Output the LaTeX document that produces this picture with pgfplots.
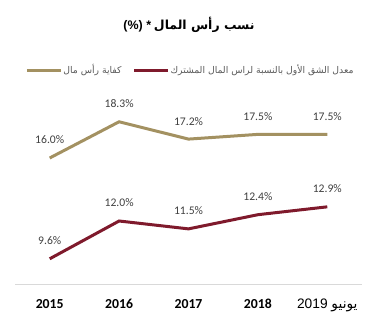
\documentclass[border=0pt]{standalone}
\usepackage{fontspec}
\setmainfont{Carlito}
\newfontfamily\arabicfont[Script=Arabic]{DejaVu Sans}
\newfontfamily\libsans{Liberation Sans}
\usepackage{pgfplots}
\pgfplotsset{compat=1.18}
\TeXXeTstate=1
\definecolor{gold}{HTML}{A39161}
\definecolor{maroon}{HTML}{7F1A2C}
\definecolor{lbl}{HTML}{404040}
\definecolor{leg}{HTML}{595959}
\definecolor{axisgray}{HTML}{D9D9D9}
\begin{document}
\begin{tikzpicture}
\path[use as bounding box] (0,0) rectangle (378bp,330bp);
\node[font=\fontsize{12.5}{13}\selectfont, text=black] at (189bp,305bp) {{\libsans\bfseries (\%) *} {\arabicfont\bfseries\beginR نسب رأس المال\endR}};
\begin{axis}[
  at={(15bp,46bp)}, anchor=south west,
  scale only axis, width=347bp, height=189bp,
  xmin=-0.5, xmax=4.5, ymin=8, ymax=20,
  clip=false,
  /pgf/number format/assume math mode=true,
  axis y line=none,
  axis x line*=bottom,
  x axis line style={-, draw=axisgray, line width=1bp},
  xtick={0,1,2,3,4},
  xticklabels={{\bfseries 2015},{\bfseries 2016},{\bfseries 2017},{\bfseries 2018},{\libsans 2019 \arabicfont\beginR يونيو\endR}},
  xticklabel style={anchor=base, yshift=-24bp, font=\fontsize{13.8}{14}\selectfont, text=black},
  major tick length=0,
  nodes near coords={\pgfmathprintnumber[fixed,fixed zerofill,precision=1]{\pgfplotspointmeta}\%},
  every node near coord/.append style={anchor=center, yshift=18bp, font=\fontsize{11.7}{12}\selectfont, text=lbl},
  legend columns=2,
  legend style={at={(0.504,1.132)}, anchor=center, draw=none, fill=none,
    font=\arabicfont\fontsize{9.3}{10}\selectfont, text=leg,
    nodes={inner sep=1bp},
    /tikz/every even column/.append style={column sep=10bp}},
  legend image code/.code={\draw[#1, line width=3bp] (0bp,0bp) -- (34bp,0bp);},
]
\addplot[gold, line width=3bp, mark=none] coordinates {(0,16.0)(1,18.3)(2,17.2)(3,17.5)(4,17.5)};
\addlegendentry{\beginR كفاية رأس مال\endR}
\addplot[maroon, line width=3bp, mark=none] coordinates {(0,9.6)(1,12.0)(2,11.5)(3,12.4)(4,12.9)};
\addlegendentry{\beginR معدل الشق الأول بالنسبة لراس المال المشترك\endR}
\end{axis}
\end{tikzpicture}
\end{document}
